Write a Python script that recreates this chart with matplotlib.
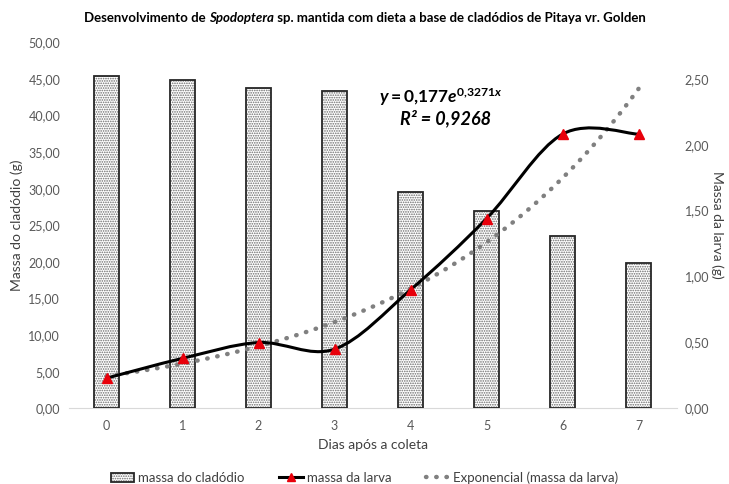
import numpy as np
import matplotlib
import matplotlib.pyplot as plt
from matplotlib.path import Path
from matplotlib.patches import PathPatch
from matplotlib.lines import Line2D
from matplotlib.legend_handler import HandlerTuple

plt.rcParams['font.family'] = ['Lato', 'DejaVu Sans']
plt.rcParams['mathtext.fontset'] = 'custom'
plt.rcParams['mathtext.it'] = 'Lato:italic:bold'
plt.rcParams['mathtext.rm'] = 'Lato:bold'
plt.rcParams['hatch.linewidth'] = 0.8

# data
dias = [0, 1, 2, 3, 4, 5, 6, 7]
massa_cladodio = [45.4, 44.8, 43.7, 43.3, 29.6, 27.0, 23.6, 19.9]
massa_larva = [0.23, 0.38, 0.50, 0.45, 0.90, 1.44, 2.08, 2.08]
exp_a = 0.177
exp_b = 0.3271

left_ticks = np.arange(0, 50.1, 5)
right_ticks = np.arange(0, 2.51, 0.5)


def smooth_path(xs, ys):
    # bezier curve through the points, like the smoothed line option
    pts = np.column_stack([xs, ys])
    n = len(pts)
    verts = [pts[0]]
    codes = [Path.MOVETO]
    for i in range(n - 1):
        p0 = pts[i - 1] if i > 0 else pts[i]
        p1 = pts[i]
        p2 = pts[i + 1]
        p3 = pts[i + 2] if i + 2 < n else pts[i + 1]
        c1 = p1 + (p2 - p0) / 6
        c2 = p2 - (p3 - p1) / 6
        verts += [c1, c2, p2]
        codes += [Path.CURVE4] * 3
    return Path(verts, codes)


fig = plt.figure(figsize=(7.29, 4.84), dpi=100)
ax = fig.add_axes([0.094, 0.156, 0.834, 0.757])
ax2 = ax.twinx()

x = np.array(dias)
b1 = ax.bar(x, massa_cladodio, width=0.32, color='white', edgecolor='#6a6a6a',
            hatch='.......', linewidth=0, zorder=2)
b2 = ax.bar(x, massa_cladodio, width=0.32, fill=False, edgecolor='#262626',
            linewidth=1.3, zorder=3)

ax.set_xlim(-0.5, 7.5)
ax.set_ylim(0, 50)
ax.set_yticks(left_ticks)
ax.set_yticklabels([f'{v:.2f}'.replace('.', ',') for v in left_ticks])
ax.set_xticks(x)
ax.set_xticklabels([str(d) for d in dias])
ax.tick_params(length=0, labelsize=9, colors='#595959', pad=8)
ax.tick_params(axis='y', pad=6)
for s in ['top', 'left', 'right']:
    ax.spines[s].set_visible(False)
ax.spines['bottom'].set_color('#d9d9d9')
ax.spines['bottom'].set_zorder(1)
ax.set_xlabel('Dias após a coleta', fontsize=10, color='#404040', labelpad=5)
ax.set_ylabel('Massa do cladódio (g)', fontsize=10, color='#404040', labelpad=4)

# larva mass on right axis
xt = np.linspace(0, 7, 200)
ax2.plot(xt, exp_a * np.exp(exp_b * (xt + 1)), linestyle=(0, (0.1, 2.2)),
         color='#808080', linewidth=3.2, dash_capstyle='round', zorder=4)
ax2.add_patch(PathPatch(smooth_path(x, massa_larva), facecolor='none',
                        edgecolor='black', linewidth=2.2, zorder=5))
ax2.plot(x, massa_larva, linestyle='none', marker='^', markersize=7,
         color='#e8000b', zorder=6)
ax2.set_ylim(0, 2.5 * 50 / 45)
ax2.set_yticks(right_ticks)
ax2.set_yticklabels([f'{v:.2f}'.replace('.', ',') for v in right_ticks])
ax2.tick_params(length=0, labelsize=9, colors='#595959', pad=6)
for s in ['top', 'left', 'right', 'bottom']:
    ax2.spines[s].set_visible(False)
ax2.set_ylabel('Massa da larva (g)', fontsize=10, color='#404040',
               rotation=-90, labelpad=10)
ax2.set_zorder(ax.get_zorder() + 1)
ax2.patch.set_visible(False)

# trend equation
ax2.text(0.51, 0.85, r'$\mathit{y=0{,}177e^{0{,}3271x}}$', transform=ax2.transAxes,
         fontsize=12.5, color='black', ha='left', va='center')
ax2.text(0.545, 0.792, 'R² = 0,9268', transform=ax2.transAxes, fontsize=13,
         fontweight='bold', fontstyle='italic', color='black', ha='left', va='center')

# title with italic genus name
t1 = fig.text(0, 0.962, 'Desenvolvimento de ', fontsize=9.5, fontweight='bold',
              color='black', va='center', ha='left')
t2 = fig.text(0, 0.962, 'Spodoptera', fontsize=9.5, fontweight='bold',
              fontstyle='italic', color='black', va='center', ha='left')
t3 = fig.text(0, 0.962, ' sp. mantida com dieta a base de cladódios de Pitaya vr. Golden',
              fontsize=9.5, fontweight='bold', color='black', va='center', ha='left')
r = fig.canvas.get_renderer()
w1 = t1.get_window_extent(r).width / fig.bbox.width
w2 = t2.get_window_extent(r).width / fig.bbox.width
w3 = t3.get_window_extent(r).width / fig.bbox.width
x0 = 0.5 - (w1 + w2 + w3) / 2
t1.set_x(x0)
t2.set_x(x0 + w1)
t3.set_x(x0 + w1 + w2)

handles = [
    (b1[0], b2[0]),
    Line2D([], [], color='black', linewidth=2.2, marker='^', markersize=6,
           markerfacecolor='#e8000b', markeredgecolor='#e8000b'),
    Line2D([], [], color='#808080', linestyle=(0, (0.1, 2.2)), linewidth=3.2,
           dash_capstyle='round'),
]
labels = ['massa do cladódio', 'massa da larva', 'Exponencial (massa da larva)']
fig.legend(handles, labels, loc='center', bbox_to_anchor=(0.5, 0.013), ncol=3,
           frameon=False, fontsize=9.5, labelcolor='#404040', handlelength=1.8,
           columnspacing=2.6, handletextpad=0.3,
           handler_map={tuple: HandlerTuple(ndivide=1, pad=0)})

fig.savefig('out.png', dpi=100)
